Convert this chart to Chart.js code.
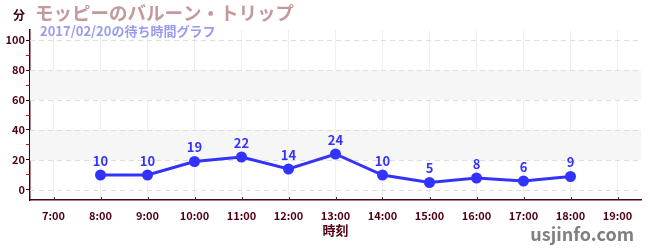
<!DOCTYPE html>
<html><head><meta charset="utf-8">
<script src="https://cdn.jsdelivr.net/npm/chart.js@4/dist/chart.umd.min.js"></script>
<style>html,body{margin:0;padding:0;background:#fff;}#wrap{width:650px;height:250px;position:relative;}</style>
</head><body><div id="wrap"><canvas id="c" width="650" height="250"></canvas></div>
<script>
const categories = ['7:00','8:00','9:00','10:00','11:00','12:00','13:00','14:00','15:00','16:00','17:00','18:00','19:00'];
const waitTimes = [null,10,10,19,22,14,24,10,5,8,6,9,null];
const yTicks = [0,10,20,30,40,50,60,70,80,90,100];
const bands = [[20,40],[60,80]];
const titleText = 'モッピーのバルーン・トリップ';
const subtitleText = '2017/02/20の待ち時間グラフ';
const yUnit = '分';
const xTitle = '時刻';
const credit = 'usjinfo.com';

const JP = '"Noto Sans CJK JP", "Noto Sans", sans-serif';
const AXIS = '#500010';

const extras = {
  id: 'extras',
  beforeDatasetsDraw(chart) {
    const {ctx, chartArea: a, scales: {x, y}} = chart;
    ctx.save();
    ctx.fillStyle = '#f6f6f6';
    bands.forEach(([lo, hi]) => {
      const t = y.getPixelForValue(hi), b = y.getPixelForValue(lo);
      ctx.fillRect(a.left, t, a.right - a.left, b - t);
    });
    ctx.strokeStyle = '#dddddd';
    ctx.setLineDash([5, 4]);
    ctx.lineWidth = 1;
    yTicks.filter(v => v % 20 === 0).forEach(v => {
      const py = Math.round(y.getPixelForValue(v)) + 0.5;
      ctx.beginPath(); ctx.moveTo(a.left, py); ctx.lineTo(a.right, py); ctx.stroke();
    });
    ctx.setLineDash([]);
    ctx.strokeStyle = '#333';
    categories.forEach((c, i) => {
      const px = Math.round(x.getPixelForValue(i)) + 0.5;
      ctx.beginPath(); ctx.moveTo(px, a.bottom - 3); ctx.lineTo(px, a.bottom); ctx.stroke();
    });
    ctx.restore();
  },
  afterDraw(chart) {
    const {ctx, chartArea: a} = chart;
    ctx.save();
    const meta = chart.getDatasetMeta(0);
    ctx.font = 'bold 13px ' + JP;
    ctx.fillStyle = '#3333ff';
    ctx.textAlign = 'center';
    ctx.textBaseline = 'alphabetic';
    meta.data.forEach((pt, i) => {
      const v = waitTimes[i];
      if (v == null) return;
      ctx.fillText(String(v), pt.x, pt.y - 9);
    });
    ctx.textAlign = 'left';
    ctx.font = 'bold 12px ' + JP;
    ctx.fillStyle = '#400010';
    ctx.fillText(yUnit, 13, 20);
    ctx.font = 'bold 18.5px ' + JP;
    ctx.fillStyle = '#c39a9c';
    ctx.fillText(titleText, 35, 20);
    ctx.font = 'bold 13px ' + JP;
    ctx.fillStyle = '#9a9af0';
    ctx.fillText(subtitleText, 40, 36);
    ctx.font = 'bold 13px ' + JP;
    ctx.fillStyle = '#500010';
    ctx.textAlign = 'center';
    ctx.fillText(xTitle, (a.left + a.right) / 2, 235);
    ctx.font = 'bold 18px ' + JP;
    ctx.fillStyle = '#808080';
    ctx.textAlign = 'right';
    ctx.fillText(credit, 634, 241);
    ctx.restore();
  }
};

new Chart(document.getElementById('c'), {
  type: 'line',
  data: {
    labels: categories,
    datasets: [{
      data: waitTimes,
      borderColor: '#3333ff',
      backgroundColor: '#3333ff',
      borderWidth: 3,
      pointRadius: 5.5,
      pointHoverRadius: 5.5,
      pointBackgroundColor: '#3333ff',
      pointBorderWidth: 0,
      tension: 0,
      fill: false
    }]
  },
  options: {
    responsive: false,
    animation: false,
    events: [],
    layout: {padding: {top: 30, left: 0, right: 9, bottom: 0}},
    plugins: {legend: {display: false}, tooltip: {enabled: false}, title: {display: false}},
    scales: {
      x: {
        offset: true,
        afterFit(s) { s.height = 50; },
        grid: {offset: false, drawTicks: false, color: '#efefef', lineWidth: 1},
        border: {display: true, color: AXIS, width: 1.5, dash: []},
        ticks: {color: AXIS, padding: 9, maxRotation: 0, autoSkip: false,
          font: {family: '"Liberation Sans Narrow", ' + JP, size: 11, weight: 'bold'}}
      },
      y: {
        min: -6.667,
        max: 106.667,
        afterFit(s) { s.width = 30; },
        afterBuildTicks(s) { s.ticks = yTicks.map(v => ({value: v})); },
        grid: {
          drawOnChartArea: false,
          drawTicks: true,
          tickLength: 4,
          tickColor: (c) => (c.tick && c.tick.value % 20 === 0) ? '#300000' : '#e00000'
        },
        border: {display: true, color: AXIS, width: 1.5},
        ticks: {
          color: AXIS, padding: 1,
          font: {family: JP, size: 11, weight: 'bold'},
          callback: (v) => (v % 20 === 0 ? v : '')
        }
      }
    }
  },
  plugins: [extras]
});
</script></body></html>
